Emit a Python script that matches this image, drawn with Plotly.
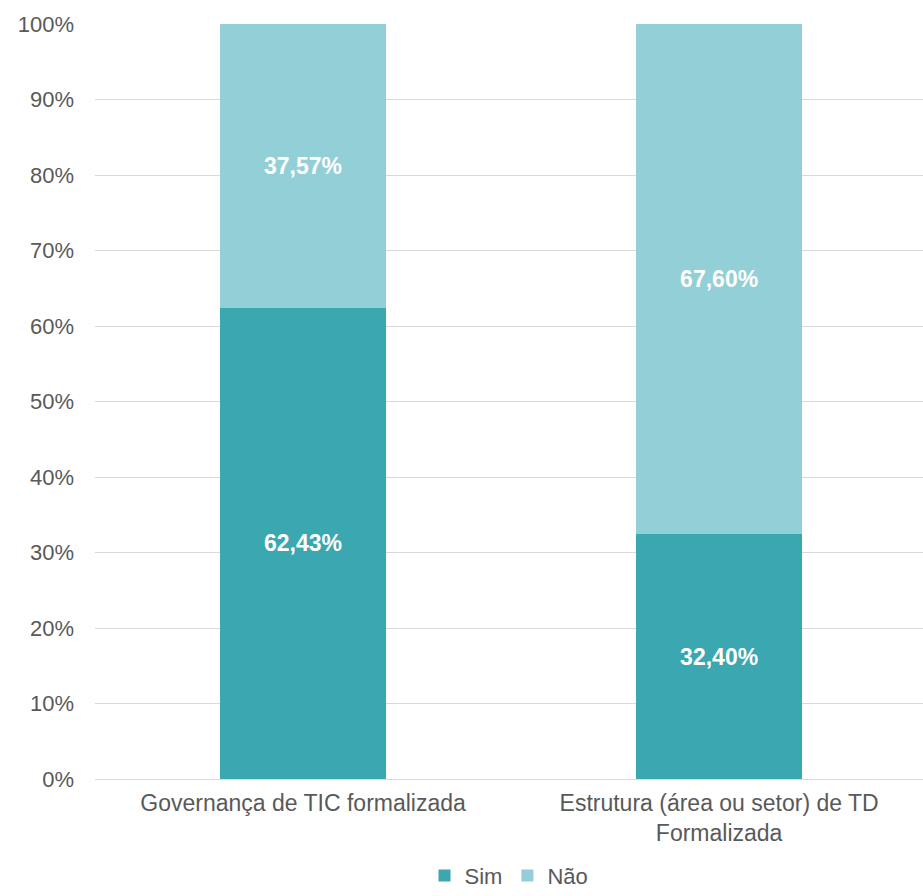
import plotly.graph_objects as go

categories = ["Governança de TIC formalizada", "Estrutura (área ou setor) de TD<br>Formalizada"]
sim_values = [62.43, 32.40]
nao_values = [37.57, 67.60]
sim_labels = ["62,43%", "32,40%"]
nao_labels = ["37,57%", "67,60%"]
y_ticks = [0, 10, 20, 30, 40, 50, 60, 70, 80, 90, 100]
y_tick_labels = [f"{v}%" for v in y_ticks]

FONT = "Liberation Sans"
GRAY = "#595959"

fig = go.Figure()
fig.add_trace(go.Bar(
    x=categories, y=sim_values, name="Sim", text=sim_labels,
    marker=dict(color="#3BA7B1", line=dict(width=0)),
    textposition="inside", insidetextanchor="middle",
    textfont=dict(color="white", size=23, family=FONT),
    texttemplate="<b>%{text}</b>", hoverinfo="skip",
))
fig.add_trace(go.Bar(
    x=categories, y=nao_values, name="Não", text=nao_labels,
    marker=dict(color="#92CFD6", line=dict(width=0)),
    textposition="inside", insidetextanchor="middle",
    textfont=dict(color="white", size=23, family=FONT),
    texttemplate="<b>%{text}</b>", hoverinfo="skip",
))

fig.update_layout(
    barmode="stack",
    bargap=0.6,
    width=923, height=896,
    margin=dict(l=95, r=0, t=24, b=117, autoexpand=False),
    plot_bgcolor="white", paper_bgcolor="white",
    font=dict(family=FONT, size=22, color=GRAY),
    showlegend=True,
    legend=dict(orientation="h", x=0.5, xanchor="center", y=-0.128, yanchor="middle",
                traceorder="normal", font=dict(size=22, color=GRAY, family=FONT),
                itemwidth=30, tracegroupgap=0),
    uniformtext=dict(mode="show", minsize=10),
)
fig.update_xaxes(range=[-0.5, 1.49], showgrid=False, showline=False, ticks="", ticklabelstandoff=8,
                 automargin=False, tickfont=dict(size=23, color=GRAY, family=FONT))
fig.update_yaxes(range=[0, 100], tickmode="array", tickvals=y_ticks, ticktext=y_tick_labels,
                 showgrid=True, gridcolor="#D9D9D9", gridwidth=1, zeroline=True, automargin=False,
                 zerolinecolor="#D9D9D9", zerolinewidth=1, showline=False, ticks="",
                 ticklabelstandoff=20, tickfont=dict(size=22, color=GRAY, family=FONT))

fig.write_html("out.html")
